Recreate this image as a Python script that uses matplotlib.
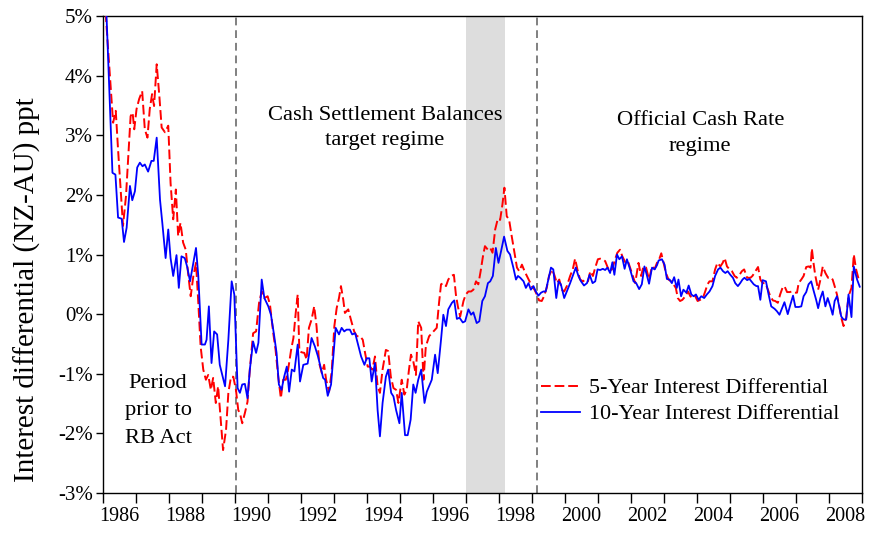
import numpy as np
import matplotlib
matplotlib.use("Agg")
import matplotlib.pyplot as plt
from matplotlib.ticker import FixedLocator, FuncFormatter

# ---- data (decimal year, percentage points) ----
y5_dates = [
    1986.00, 1986.10, 1986.32, 1986.40, 1986.47, 1986.55, 1986.62, 1986.71, 1986.78, 1986.85,
    1986.91, 1986.96, 1987.03, 1987.11, 1987.20, 1987.28, 1987.36, 1987.43, 1987.50, 1987.56,
    1987.64, 1987.72, 1987.79, 1987.89, 1987.99, 1988.06, 1988.14, 1988.22, 1988.29, 1988.36,
    1988.44, 1988.52, 1988.59, 1988.67, 1988.75, 1988.83, 1988.90, 1988.97, 1989.05, 1989.13,
    1989.20, 1989.28, 1989.35, 1989.43, 1989.50, 1989.58, 1989.65, 1989.74, 1989.81, 1989.89,
    1989.96, 1990.04, 1990.11, 1990.16, 1990.23, 1990.31, 1990.39, 1990.46, 1990.56, 1990.65,
    1990.74, 1990.82, 1990.90, 1991.00, 1991.07, 1991.17, 1991.24, 1991.32, 1991.40, 1991.47,
    1991.55, 1991.62, 1991.71, 1991.78, 1991.85, 1991.91, 1991.96, 1992.03, 1992.11, 1992.18,
    1992.25, 1992.33, 1992.41, 1992.48, 1992.56, 1992.64, 1992.71, 1992.77, 1992.86, 1992.94,
    1993.02, 1993.09, 1993.16, 1993.22, 1993.29, 1993.34, 1993.44, 1993.52, 1993.62, 1993.70,
    1993.80, 1993.88, 1993.95, 1994.03, 1994.10, 1994.17, 1994.25, 1994.33, 1994.40, 1994.48,
    1994.58, 1994.65, 1994.73, 1994.81, 1994.89, 1994.96, 1995.06, 1995.14, 1995.21, 1995.28,
    1995.34, 1995.41, 1995.49, 1995.56, 1995.65, 1995.72, 1995.79, 1995.89, 1996.02, 1996.12,
    1996.19, 1996.25, 1996.32, 1996.40, 1996.47, 1996.55, 1996.64, 1996.70, 1996.76, 1996.83,
    1996.93, 1997.00, 1997.08, 1997.16, 1997.23, 1997.31, 1997.38, 1997.45, 1997.52, 1997.58,
    1997.67, 1997.74, 1997.81, 1997.89, 1997.97, 1998.04, 1998.11, 1998.17, 1998.24, 1998.31,
    1998.39, 1998.46, 1998.55, 1998.62, 1998.70, 1998.78, 1998.85, 1998.93, 1999.00, 1999.08,
    1999.15, 1999.22, 1999.30, 1999.37, 1999.45, 1999.52, 1999.61, 1999.68, 1999.76, 1999.83,
    1999.91, 1999.98, 2000.06, 2000.16, 2000.24, 2000.31, 2000.38, 2000.46, 2000.55, 2000.62,
    2000.70, 2000.77, 2000.85, 2000.92, 2001.00, 2001.07, 2001.14, 2001.22, 2001.30, 2001.37,
    2001.44, 2001.52, 2001.59, 2001.67, 2001.74, 2001.83, 2001.91, 2002.03, 2002.13, 2002.23,
    2002.31, 2002.38, 2002.46, 2002.55, 2002.64, 2002.72, 2002.79, 2002.87, 2002.92, 2002.99,
    2003.06, 2003.14, 2003.22, 2003.29, 2003.36, 2003.42, 2003.49, 2003.56, 2003.65, 2003.73,
    2003.80, 2003.88, 2003.95, 2004.02, 2004.10, 2004.18, 2004.25, 2004.32, 2004.38, 2004.47,
    2004.55, 2004.62, 2004.71, 2004.78, 2004.84, 2004.91, 2004.99, 2005.06, 2005.14, 2005.21,
    2005.29, 2005.36, 2005.43, 2005.52, 2005.62, 2005.68, 2005.77, 2005.85, 2005.92, 2005.99,
    2006.07, 2006.15, 2006.22, 2006.30, 2006.37, 2006.45, 2006.52, 2006.59, 2006.65, 2006.73,
    2006.81, 2006.88, 2006.96, 2007.03, 2007.08, 2007.16, 2007.23, 2007.31, 2007.38, 2007.44,
    2007.48, 2007.53, 2007.58, 2007.67, 2007.74, 2007.81, 2007.89, 2007.97, 2008.04, 2008.11,
    2008.17, 2008.24, 2008.31, 2008.37, 2008.44, 2008.52, 2008.59, 2008.68, 2008.75, 2008.82,
    2008.90,
]
y5_diff = [
    5.30, 5.00, 3.21, 3.41, 2.76, 2.09, 1.48, 1.98, 2.65, 3.32,
    3.38, 3.10, 3.44, 3.61, 3.74, 3.10, 2.96, 3.44, 3.69, 3.49,
    4.19, 3.66, 3.13, 3.05, 3.16, 2.20, 1.59, 2.09, 1.31, 1.53,
    1.20, 1.08, 0.69, 0.30, 0.64, 0.86, 0.19, -0.54, -0.93, -1.10,
    -1.02, -1.27, -1.07, -1.49, -1.21, -1.77, -2.28, -1.94, -1.32, -1.05,
    -1.05, -1.27, -1.61, -1.66, -1.83, -1.66, -1.47, -0.93, -0.32, -0.29,
    0.19, 0.38, 0.27, 0.30, 0.16, -0.32, -0.60, -1.05, -1.41, -1.10,
    -1.10, -0.93, -0.60, -0.40, 0.02, 0.33, -0.62, -0.64, -0.65, -0.76,
    -0.23, -0.09, 0.13, -0.20, -0.82, -0.99, -0.85, -1.10, -1.30, -0.96,
    -0.20, 0.10, 0.27, 0.47, 0.24, 0.02, 0.08, -0.09, -0.29, -0.37,
    -0.37, -0.43, -0.65, -0.88, -0.88, -0.93, -0.71, -1.21, -1.32, -0.93,
    -0.60, -0.62, -1.05, -1.24, -1.27, -1.49, -1.10, -1.35, -1.27, -0.93,
    -0.68, -0.79, -1.02, -0.12, -0.23, -1.10, -0.54, -0.37, -0.29, -0.23,
    0.19, 0.50, 0.52, 0.47, 0.58, 0.64, 0.66, 0.33, 0.13, -0.04,
    0.22, 0.33, 0.38, 0.38, 0.41, 0.55, 0.50, 0.72, 0.97, 1.14,
    1.08, 1.11, 1.03, 1.42, 1.60, 1.58, 1.84, 2.12, 1.64, 1.59,
    1.31, 1.08, 0.78, 0.72, 0.83, 0.72, 0.64, 0.55, 0.47, 0.41,
    0.33, 0.23, 0.22, 0.30, 0.44, 0.64, 0.75, 0.66, 0.52, 0.58,
    0.41, 0.38, 0.47, 0.64, 0.75, 0.93, 0.75, 0.58, 0.55, 0.58,
    0.55, 0.72, 0.64, 0.78, 0.92, 0.93, 0.92, 0.89, 0.78, 0.72,
    0.76, 0.92, 1.03, 1.08, 0.97, 0.87, 0.89, 0.69, 0.52, 0.86,
    0.64, 0.80, 0.78, 0.58, 0.80, 0.76, 0.86, 0.94, 1.02, 0.86,
    0.69, 0.58, 0.55, 0.50, 0.44, 0.27, 0.22, 0.24, 0.30, 0.38,
    0.30, 0.27, 0.30, 0.22, 0.24, 0.27, 0.38, 0.50, 0.55, 0.55,
    0.75, 0.86, 0.80, 0.86, 0.94, 0.80, 0.75, 0.72, 0.64, 0.61,
    0.66, 0.72, 0.75, 0.61, 0.61, 0.64, 0.72, 0.79, 0.58, 0.52,
    0.52, 0.41, 0.30, 0.23, 0.22, 0.19, 0.33, 0.44, 0.47, 0.37,
    0.37, 0.38, 0.36, 0.36, 0.52, 0.58, 0.64, 0.79, 0.80, 0.78,
    1.10, 0.86, 0.66, 0.41, 0.58, 0.80, 0.69, 0.61, 0.62, 0.58,
    0.47, 0.33, 0.13, -0.06, -0.20, -0.06, 0.30, 0.44, 1.00, 0.75,
    0.58,
]

y10_dates = [
    1986.08, 1986.30, 1986.39, 1986.47, 1986.58, 1986.65, 1986.73, 1986.83, 1986.90, 1986.98,
    1987.05, 1987.13, 1987.21, 1987.28, 1987.38, 1987.48, 1987.55, 1987.64, 1987.74, 1987.81,
    1987.91, 1987.99, 1988.06, 1988.14, 1988.24, 1988.31, 1988.39, 1988.49, 1988.56, 1988.65,
    1988.75, 1988.83, 1988.90, 1989.00, 1989.10, 1989.15, 1989.22, 1989.30, 1989.38, 1989.47,
    1989.55, 1989.71, 1989.81, 1989.91, 1989.99, 1990.09, 1990.16, 1990.23, 1990.31, 1990.39,
    1990.46, 1990.56, 1990.65, 1990.72, 1990.82, 1990.90, 1991.02, 1991.10, 1991.20, 1991.27,
    1991.34, 1991.42, 1991.50, 1991.58, 1991.65, 1991.73, 1991.81, 1991.91, 1991.98, 1992.08,
    1992.21, 1992.33, 1992.43, 1992.53, 1992.62, 1992.68, 1992.74, 1992.82, 1992.92, 1993.06,
    1993.16, 1993.24, 1993.32, 1993.39, 1993.49, 1993.56, 1993.65, 1993.75, 1993.83, 1993.93,
    1994.00, 1994.08, 1994.15, 1994.25, 1994.33, 1994.40, 1994.48, 1994.58, 1994.65, 1994.74,
    1994.81, 1994.89, 1994.99, 1995.06, 1995.16, 1995.24, 1995.33, 1995.41, 1995.48, 1995.56,
    1995.65, 1995.75, 1995.82, 1995.97, 1996.07, 1996.15, 1996.25, 1996.32, 1996.40, 1996.47,
    1996.58, 1996.65, 1996.73, 1996.81, 1996.91, 1996.98, 1997.08, 1997.16, 1997.23, 1997.33,
    1997.41, 1997.50, 1997.58, 1997.67, 1997.74, 1997.82, 1997.91, 1997.99, 1998.07, 1998.16,
    1998.26, 1998.34, 1998.44, 1998.52, 1998.58, 1998.65, 1998.75, 1998.82, 1998.90, 1998.97,
    1999.05, 1999.12, 1999.20, 1999.28, 1999.35, 1999.42, 1999.50, 1999.58, 1999.65, 1999.74,
    1999.81, 1999.88, 1999.98, 2000.06, 2000.16, 2000.24, 2000.33, 2000.41, 2000.49, 2000.58,
    2000.67, 2000.75, 2000.84, 2000.92, 2000.99, 2001.07, 2001.15, 2001.22, 2001.29, 2001.37,
    2001.44, 2001.50, 2001.58, 2001.65, 2001.73, 2001.81, 2001.88, 2001.96, 2002.08, 2002.16,
    2002.25, 2002.33, 2002.41, 2002.48, 2002.55, 2002.64, 2002.72, 2002.79, 2002.84, 2002.94,
    2003.02, 2003.09, 2003.17, 2003.24, 2003.31, 2003.39, 2003.44, 2003.52, 2003.59, 2003.68,
    2003.75, 2003.83, 2003.90, 2003.97, 2004.05, 2004.13, 2004.22, 2004.30, 2004.38, 2004.47,
    2004.55, 2004.64, 2004.71, 2004.79, 2004.86, 2004.93, 2005.01, 2005.09, 2005.16, 2005.24,
    2005.31, 2005.38, 2005.44, 2005.52, 2005.59, 2005.72, 2005.80, 2005.85, 2005.92, 2005.99,
    2006.09, 2006.17, 2006.25, 2006.35, 2006.42, 2006.50, 2006.58, 2006.65, 2006.75, 2006.83,
    2006.91, 2006.98, 2007.08, 2007.16, 2007.23, 2007.31, 2007.38, 2007.46, 2007.53, 2007.61,
    2007.67, 2007.74, 2007.81, 2007.89, 2007.96, 2008.04, 2008.11, 2008.17, 2008.24, 2008.32,
    2008.37, 2008.44, 2008.52, 2008.59, 2008.68, 2008.75, 2008.85, 2008.93,
]
y10_diff = [
    5.60, 2.37, 2.34, 1.62, 1.60, 1.21, 1.45, 2.15, 1.91, 2.06,
    2.46, 2.54, 2.48, 2.51, 2.39, 2.57, 2.57, 2.96, 1.92, 1.53,
    0.94, 1.42, 0.94, 0.64, 0.99, 0.44, 0.97, 0.94, 0.80, 0.55,
    0.86, 1.11, 0.64, -0.51, -0.51, -0.43, 0.13, -0.82, -0.29, -0.34,
    -0.85, -1.21, -0.43, 0.55, 0.33, -1.24, -1.32, -1.18, -1.17, -1.41,
    -0.93, -0.46, -0.65, -0.48, 0.58, 0.27, 0.13, -0.01, -0.37, -0.65,
    -1.18, -1.27, -1.05, -0.88, -1.30, -0.93, -0.96, -0.51, -1.13, -0.85,
    -0.83, -0.40, -0.54, -0.72, -0.93, -1.07, -1.10, -1.37, -1.18, -0.23,
    -0.34, -0.23, -0.29, -0.26, -0.26, -0.34, -0.32, -0.54, -0.71, -0.85,
    -0.74, -0.74, -1.13, -0.82, -1.61, -2.05, -1.49, -1.05, -0.93, -1.32,
    -1.38, -1.61, -1.83, -1.32, -2.03, -2.03, -1.77, -1.18, -1.32, -1.10,
    -0.93, -1.49, -1.30, -1.10, -0.68, -0.99, -0.43, -0.01, -0.20, 0.08,
    0.19, 0.23, -0.08, -0.06, -0.14, -0.12, 0.08, -0.01, 0.03, -0.15,
    -0.12, 0.22, 0.30, 0.52, 0.55, 0.64, 1.11, 0.86, 1.06, 1.30,
    1.06, 1.00, 0.78, 0.58, 0.64, 0.61, 0.55, 0.44, 0.52, 0.41,
    0.47, 0.38, 0.31, 0.36, 0.38, 0.38, 0.58, 0.78, 0.75, 0.27,
    0.55, 0.50, 0.27, 0.38, 0.52, 0.64, 0.78, 0.64, 0.55, 0.48,
    0.52, 0.66, 0.52, 0.55, 0.75, 0.74, 0.76, 0.74, 0.78, 0.69,
    0.87, 0.66, 1.00, 0.92, 0.97, 0.76, 0.92, 0.78, 0.55, 0.52,
    0.42, 0.50, 0.80, 0.66, 0.51, 0.78, 0.75, 0.82, 0.90, 0.92,
    0.83, 0.59, 0.58, 0.52, 0.62, 0.44, 0.58, 0.30, 0.41, 0.36,
    0.48, 0.33, 0.30, 0.33, 0.24, 0.30, 0.27, 0.33, 0.38, 0.47,
    0.64, 0.75, 0.78, 0.72, 0.69, 0.72, 0.66, 0.61, 0.52, 0.47,
    0.52, 0.58, 0.61, 0.57, 0.59, 0.50, 0.47, 0.47, 0.24, 0.57,
    0.55, 0.33, 0.13, 0.09, 0.05, -0.01, 0.10, 0.20, 0.00, 0.16,
    0.31, 0.12, 0.12, 0.13, 0.30, 0.37, 0.50, 0.55, 0.40, 0.24,
    0.10, 0.27, 0.38, 0.13, 0.27, 0.13, -0.01, 0.22, 0.30, 0.10,
    -0.04, -0.09, -0.09, 0.33, -0.05, 0.80, 0.58, 0.46,
]

regime_breaks = [1990.05, 1999.17]      # RB Act, OCR introduction
shaded_span = (1997.0, 1998.2)
year_labels = list(range(1986, 2009, 2))
y_ticks = [-3, -2, -1, 0, 1, 2, 3, 4, 5]

plt.rcParams['font.family'] = ['Liberation Serif', 'DejaVu Serif']

fig = plt.figure(figsize=(8.69, 5.33), dpi=100)
ax = fig.add_axes([0.118, 0.075, 0.874, 0.895])

ax.axvspan(*shaded_span, color='#dddddd', lw=0, zorder=0)
for xb in regime_breaks:
    ax.axvline(xb, color='#808080', lw=1.4, ls=(0, (4, 2.5)), zorder=1)

ax.plot(y5_dates, y5_diff, color='#ff0000', lw=1.4, dashes=(5.0, 2.0),
        label='5-Year Interest Differential', zorder=3)
ax.plot(y10_dates, y10_diff, color='#0000ff', lw=1.3,
        label='10-Year Interest Differential', zorder=4)

ax.set_xlim(1986, 2009)
ax.set_ylim(-3, 5)

# yearly ticks, labels centred in the even years
ax.xaxis.set_major_locator(FixedLocator(np.arange(1986, 2010)))
ax.xaxis.set_major_formatter(FuncFormatter(lambda v, p: ''))
ax.xaxis.set_minor_locator(FixedLocator([y + 0.5 for y in year_labels]))
ax.set_xticklabels([str(y) for y in year_labels], minor=True)
ax.tick_params(axis='x', which='major', direction='out', length=7, width=1)
ax.tick_params(axis='x', which='minor', length=0, labelsize=14.5, pad=10)

ax.set_yticks(y_ticks)
ax.set_yticklabels([f'{t}%' for t in y_ticks])
ax.tick_params(axis='y', direction='out', length=5, width=1, labelsize=15, pad=2)

for s in ax.spines.values():
    s.set_linewidth(1.0)

fig.text(27 / 869, 1 - 290 / 533, 'Interest differential (NZ-AU) ppt',
         rotation=90, ha='center', va='center', fontsize=21)

ax.text(1994.55, 3.12, 'Cash Settlement Balances\ntarget regime',
        ha='center', va='center', fontsize=16.2, linespacing=1.45)
ax.text(2004.1, 3.03, 'Official Cash Rate\nregime',
        ha='center', va='center', fontsize=16.2, linespacing=1.45)
ax.text(1987.68, -1.62, 'Period\nprior to\nRB Act',
        ha='center', va='center', fontsize=16.2, linespacing=1.62)

ax.legend(loc='upper left', bbox_to_anchor=(0.551, 0.283), frameon=False,
          fontsize=15.9, handlelength=1.75, handletextpad=0.45, labelspacing=0.25)

fig.savefig('out.png', dpi=100)
